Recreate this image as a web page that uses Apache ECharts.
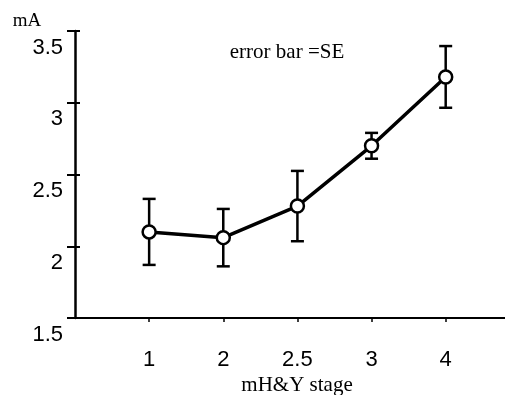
<!DOCTYPE html>
<html>
<head>
<meta charset="utf-8">
<script src="https://cdn.jsdelivr.net/npm/echarts@6/dist/echarts.min.js"></script>
<style>
html,body{margin:0;padding:0;background:#fff;}
#chart{width:505px;height:395px;}
</style>
</head>
<body>
<div id="chart"></div>
<script>
var stageLabels = ['1', '2', '2.5', '3', '4'];
var meanValues = [2.10, 2.06, 2.28, 2.70, 3.18];
var seValues = [0.23, 0.20, 0.245, 0.09, 0.215];
var yTicks = [1.5, 2, 2.5, 3, 3.5];

var positions = stageLabels.map(function (s, i) { return i + 1; });
var lineData = positions.map(function (p, i) { return [p, meanValues[i]]; });
var errData = positions.map(function (p, i) { return [p, meanValues[i] - seValues[i], meanValues[i] + seValues[i]]; });

var chart = echarts.init(document.getElementById('chart'), null, {renderer: 'canvas'});
var option = {
  backgroundColor: '#ffffff',
  animation: false,
  grid: {left: 75, right: 0, top: 31, bottom: 77, containLabel: false},
  xAxis: {
    type: 'value',
    min: 0, max: 5.8, interval: 1,
    splitLine: {show: false},
    axisLine: {show: true, onZero: false, lineStyle: {color: '#000', width: 2}},
    axisTick: {show: true, length: 4, lineStyle: {color: '#000', width: 1.5}},
    axisLabel: {
      show: true, margin: 31, color: '#000', fontSize: 22,
      fontFamily: 'Liberation Sans, Arial, sans-serif',
      showMaxLabel: false, showMinLabel: false,
      formatter: function (v) {
        var idx = Math.round(v) - 1;
        if (Math.abs(v - Math.round(v)) < 1e-6 && idx >= 0 && idx < stageLabels.length) return stageLabels[idx];
        return '';
      }
    }
  },
  yAxis: [{
    type: 'value',
    min: yTicks[0], max: yTicks[yTicks.length - 1], interval: 0.5,
    splitLine: {show: false},
    axisLine: {show: true, lineStyle: {color: '#000', width: 2.5}},
    axisTick: {show: true, length: 8, lineStyle: {color: '#000', width: 2}},
    axisLabel: {
      show: true, margin: 12, color: '#000', fontSize: 22,
      fontFamily: 'Liberation Sans, Arial, sans-serif',
      verticalAlign: 'top', lineHeight: 33,
      formatter: function (v) { return String(v); }
    }
  }, {
    type: 'value', position: 'left',
    min: yTicks[0], max: yTicks[yTicks.length - 1], interval: 0.5,
    splitLine: {show: false},
    axisLine: {show: false},
    axisTick: {show: true, inside: true, length: 5, lineStyle: {color: '#000', width: 2}},
    axisLabel: {show: false}
  }],
  graphic: [
    {type: 'text', x: 27, y: 21, style: {text: 'mA', font: '19px "Liberation Serif", "Times New Roman", serif', fill: '#000', align: 'center', verticalAlign: 'middle'}},
    {type: 'text', x: 287, y: 52, style: {text: 'error bar =SE', font: '21px "Liberation Serif", "Times New Roman", serif', fill: '#000', align: 'center', verticalAlign: 'middle'}},
    {type: 'text', x: 297, y: 385, style: {text: 'mH&Y stage', font: '21px "Liberation Serif", "Times New Roman", serif', fill: '#000', align: 'center', verticalAlign: 'middle'}}
  ],
  series: [{
    type: 'custom',
    z: 2,
    data: errData,
    renderItem: function (params, api) {
      var x = api.value(0);
      var lo = api.coord([x, api.value(1)]);
      var hi = api.coord([x, api.value(2)]);
      var hw = 6.5;
      var st = {stroke: '#000', lineWidth: 2.5};
      return {
        type: 'group',
        children: [
          {type: 'line', shape: {x1: hi[0], y1: hi[1], x2: lo[0], y2: lo[1]}, style: st},
          {type: 'line', shape: {x1: hi[0] - hw, y1: hi[1], x2: hi[0] + hw, y2: hi[1]}, style: st},
          {type: 'line', shape: {x1: lo[0] - hw, y1: lo[1], x2: lo[0] + hw, y2: lo[1]}, style: st}
        ]
      };
    }
  }, {
    type: 'line',
    z: 3,
    data: lineData,
    symbol: 'circle',
    symbolSize: 13,
    showAllSymbol: true,
    lineStyle: {color: '#000', width: 3.5},
    itemStyle: {color: '#fff', borderColor: '#000', borderWidth: 2.5}
  }]
};
chart.setOption(option);
</script>
</body>
</html>
